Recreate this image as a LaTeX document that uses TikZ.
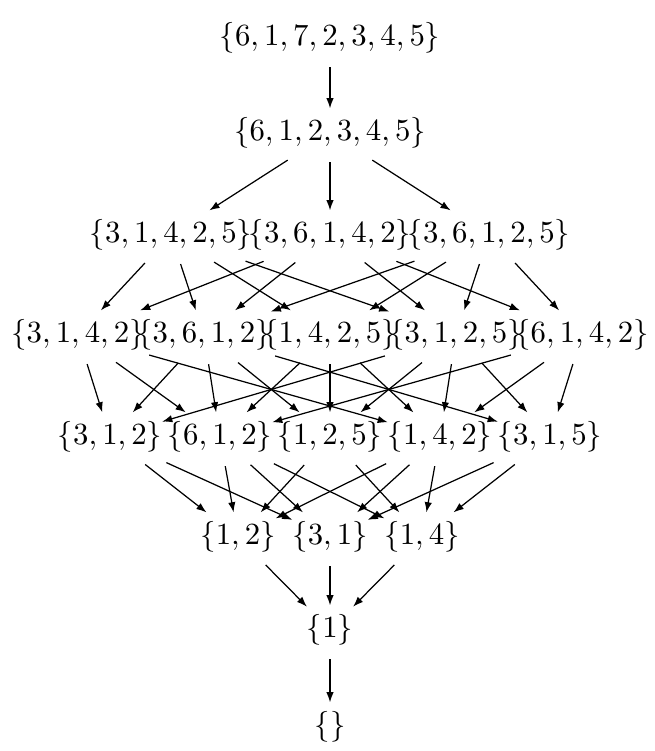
\documentclass[tikz,border=0pt]{standalone}
\usepackage{amsmath,amssymb}
\usetikzlibrary{arrows.meta}
\begin{document}
\begin{tikzpicture}[x=0.3247pt,y=-0.3247pt,>={Latex[length=3.3pt,width=2.4pt]},
  set/.style={inner xsep=0pt,inner ysep=3pt,outer sep=0pt}]
\useasboundingbox (0,0) rectangle (654,751);
% top of the lattice
\node[set] (s7) at (330,38) {$\{6,1,7,2,3,4,5\}$};
\node[set] (s6) at (330,133) {$\{6,1,2,3,4,5\}$};
% five elements
\node[set] (a5) at (171,235) {$\{3,1,4,2,5\}$};
\node[set] (b5) at (330,235) {$\{3,6,1,4,2\}$};
\node[set] (c5) at (489,235) {$\{3,6,1,2,5\}$};
% four elements
\node[set] (a4) at (78,335) {$\{3,1,4,2\}$};
\node[set] (b4) at (204,335) {$\{3,6,1,2\}$};
\node[set] (c4) at (330,335) {$\{1,4,2,5\}$};
\node[set] (d4) at (456,335) {$\{3,1,2,5\}$};
\node[set] (e4) at (582,335) {$\{6,1,4,2\}$};
% three elements
\node[set] (a3) at (110,437) {$\{3,1,2\}$};
\node[set] (b3) at (220,437) {$\{6,1,2\}$};
\node[set] (c3) at (330,437) {$\{1,2,5\}$};
\node[set] (d3) at (440,437) {$\{1,4,2\}$};
\node[set] (e3) at (550,437) {$\{3,1,5\}$};
% two elements and below
\node[set] (a2) at (238,537) {$\{1,2\}$};
\node[set] (b2) at (330,537) {$\{3,1\}$};
\node[set] (c2) at (422,537) {$\{1,4\}$};
\node[set] (s1) at (330,630) {$\{1\}$};
\node[set] (s0) at (330,727) {$\{\}$};
% edges
\foreach \a/\b in {s7/s6,s6/a5,s6/b5,s6/c5,
  a5/a4,a5/b4,a5/c4,a5/d4,b5/a4,b5/b4,b5/d4,b5/e4,c5/b4,c5/c4,c5/d4,c5/e4,
  a4/a3,a4/b3,a4/d3,b4/a3,b4/b3,b4/c3,b4/e3,c4/b3,c4/c3,c4/d3,
  d4/a3,d4/c3,d4/d3,d4/e3,e4/b3,e4/d3,e4/e3,
  a3/a2,a3/b2,b3/a2,b3/b2,b3/c2,c3/a2,c3/c2,d3/a2,d3/b2,d3/c2,e3/b2,e3/c2,
  a2/s1,b2/s1,c2/s1,s1/s0}
  \draw[->,shorten <=1.5pt] (\a) -- (\b);
\end{tikzpicture}
\end{document}
